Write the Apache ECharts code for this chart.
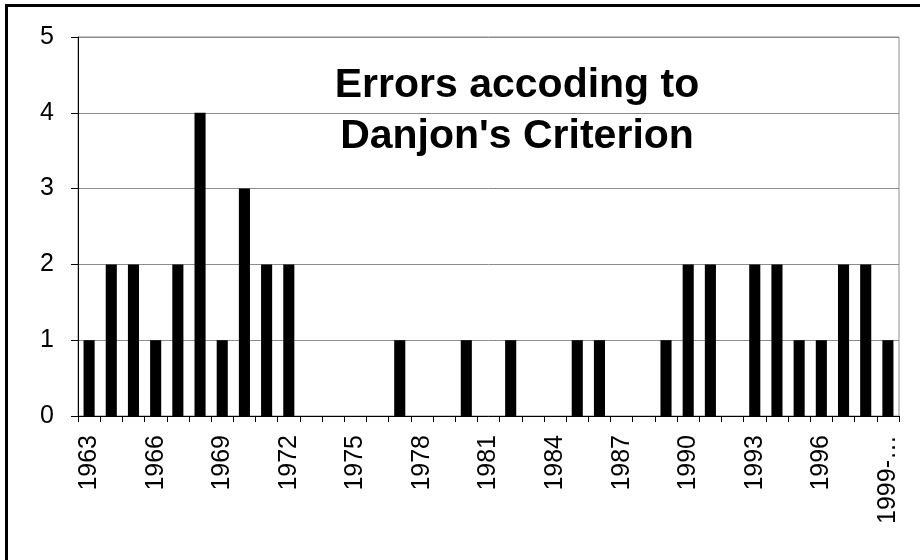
<!DOCTYPE html>
<html>
<head>
<meta charset="utf-8">
<script src="https://cdn.jsdelivr.net/npm/echarts@6/dist/echarts.min.js"></script>
<style>
  html, body { margin: 0; padding: 0; background: #fff; }
  #chart { width: 920px; height: 560px; }
</style>
</head>
<body>
<div id="chart"></div>
<script>
const years = [
  "1963", "1964", "1965", "1966", "1967", "1968", "1969", "1970", "1971", "1972",
  "1973", "1974", "1975", "1976", "1977", "1978", "1979", "1980", "1981", "1982",
  "1983", "1984", "1985", "1986", "1987", "1988", "1989", "1990", "1991", "1992",
  "1993", "1994", "1995", "1996", "1997", "1998", "1999-…"
];
const errors = [
  1, 2, 2, 1, 2, 4, 1, 3, 2, 2,
  0, 0, 0, 0, 1, 0, 0, 1, 0, 1,
  0, 0, 1, 1, 0, 0, 1, 2, 2, 0,
  2, 2, 1, 1, 2, 2, 1
];
const titleText = "Errors accoding to\nDanjon's Criterion";

const font = "'Liberation Sans', Arial, sans-serif";
const chart = echarts.init(document.getElementById("chart"));

chart.setOption({
  animation: false,
  backgroundColor: "#fff",
  title: {
    text: titleText,
    left: 512,
    top: 55,
    textAlign: "center",
    textStyle: { fontFamily: font, fontSize: 41, fontWeight: "bold", color: "#000", lineHeight: 51 }
  },
  grid: {
    left: 78, top: 37, right: 21, bottom: 144,
    show: true, borderColor: "#8c8c8c", borderWidth: 1, backgroundColor: "transparent"
  },
  xAxis: {
    type: "category",
    data: years,
    boundaryGap: true,
    axisLine: { lineStyle: { color: "#000", width: 1 } },
    axisTick: { show: true, interval: 0, length: 6, lineStyle: { color: "#000" } },
    axisLabel: {
      interval: 2, rotate: 90, margin: 19,
      fontFamily: font, fontSize: 25, color: "#000"
    },
    splitLine: { show: false }
  },
  yAxis: {
    type: "value",
    min: 0, max: 5, interval: 1,
    axisLine: { show: true, lineStyle: { color: "#000", width: 1 } },
    axisTick: { show: true, length: 7, lineStyle: { color: "#000" } },
    axisLabel: { margin: 24, fontFamily: font, fontSize: 25, color: "#000" },
    splitLine: { lineStyle: { color: "#8c8c8c", width: 1 } }
  },
  series: [{
    type: "bar",
    data: errors,
    barWidth: "50%",
    itemStyle: { color: "#000" }
  }],
  graphic: [{
    type: "rect",
    shape: { x: 6.5, y: 5.5, width: 1000, height: 1000 },
    style: { fill: "none", stroke: "#000", lineWidth: 3 },
    silent: true
  }]
});
</script>
</body>
</html>
